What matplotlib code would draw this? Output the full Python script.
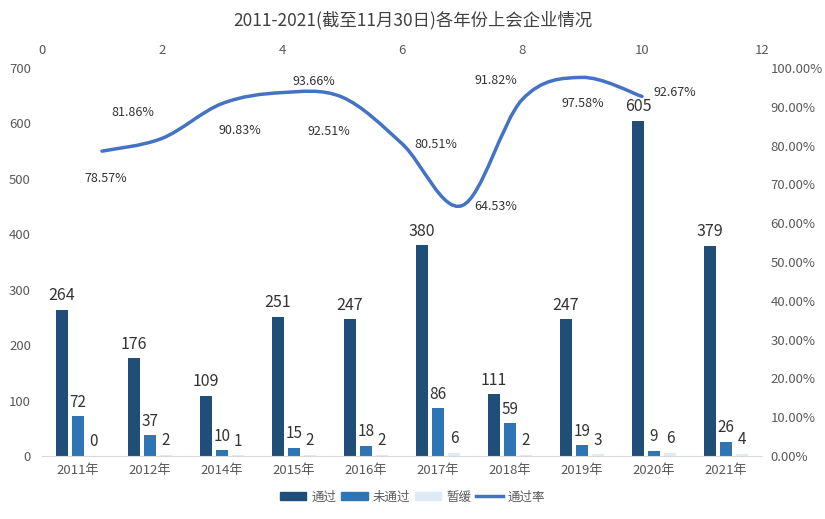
import matplotlib
matplotlib.use("Agg")
import matplotlib.pyplot as plt
from matplotlib.path import Path
from matplotlib.patches import PathPatch
from matplotlib.lines import Line2D
from matplotlib.patches import Patch
import numpy as np

plt.rcParams['font.family'] = ['Noto Sans CJK SC', 'DejaVu Sans']

# ---- data ----
years = ['2011年', '2012年', '2014年', '2015年', '2016年', '2017年', '2018年', '2019年', '2020年', '2021年']
passed = [264, 176, 109, 251, 247, 380, 111, 247, 605, 379]
failed = [72, 37, 10, 15, 18, 86, 59, 19, 9, 26]
delayed = [0, 2, 1, 2, 2, 6, 2, 3, 6, 4]
rate = [78.57, 81.86, 90.83, 93.66, 92.51, 80.51, 64.53, 91.82, 97.58, 92.67]
rate_x = [1, 2, 3, 4, 5, 6, 7, 8, 9, 10]

title = '2011-2021(截至11月30日)各年份上会企业情况'

# ---- style ----
c_pass = '#1F4E79'
c_fail = '#2E75B6'
c_delay = '#DEEBF7'
c_line = '#4472C4'
tcol = '#595959'

fig = plt.figure(figsize=(8.25, 5.19), dpi=100)
ax = fig.add_axes([42/825, 1-456/519, 720/825, 388/519])

x = np.arange(len(years))
w = 0.167
step = 0.222
b1 = ax.bar(x - step, passed, w, color=c_pass)
b2 = ax.bar(x, failed, w, color=c_fail)
b3 = ax.bar(x + step, delayed, w, color=c_delay)

ax.set_xlim(-0.5, len(years) - 0.5)
ax.set_ylim(0, 700)
ax.set_yticks(range(0, 701, 100))
ax.set_xticks(x)
ax.set_xticklabels(years)
for s in ['top', 'right', 'left']:
    ax.spines[s].set_visible(False)
ax.spines['bottom'].set_color('#D9D9D9')
ax.tick_params(axis='both', length=0, colors=tcol, labelsize=9.5)
ax.tick_params(axis='x', pad=6)
ax.tick_params(axis='y', pad=8)

for bars, fs in [(b1, 11.5), (b2, 11), (b3, 11)]:
    for r in bars:
        h = r.get_height()
        ax.annotate(f'{int(h)}', (r.get_x() + r.get_width()/2, h), xytext=(0, 4),
                    textcoords='offset points', ha='center', va='bottom',
                    fontsize=fs, color='#333333')

# right axis + top axis for the rate line
ax2 = ax.twinx()
ax2.set_ylim(0, 1.0)
ax2.set_yticks(np.arange(0, 1.01, 0.1))
ax2.set_yticklabels([f'{v*100:.2f}%' for v in np.arange(0, 1.01, 0.1)])
ax2.tick_params(axis='y', length=0, colors=tcol, labelsize=9.5, pad=6)
for s in ax2.spines.values():
    s.set_visible(False)

ax3 = ax2.twiny()
ax3.set_xlim(0, 12)
ax3.set_xticks(range(0, 13, 2))
ax3.tick_params(axis='x', length=0, colors=tcol, labelsize=9.5, pad=8)
for s in ax3.spines.values():
    s.set_visible(False)

# smoothed line (Catmull-Rom style Bezier like Excel smoothing)
pts = np.column_stack([rate_x, np.array(rate) / 100.0])
verts = [tuple(pts[0])]
codes = [Path.MOVETO]
n = len(pts)
for i in range(n - 1):
    p0 = pts[i - 1] if i > 0 else pts[i]
    p1 = pts[i]
    p2 = pts[i + 1]
    p3 = pts[i + 2] if i + 2 < n else pts[i + 1]
    c1 = p1 + (p2 - p0) / 6.0
    c2 = p2 - (p3 - p1) / 6.0
    verts += [tuple(c1), tuple(c2), tuple(p2)]
    codes += [Path.CURVE4] * 3
ax3.add_patch(PathPatch(Path(verts, codes), fill=False, edgecolor=c_line, lw=2.5,
                        capstyle='round', joinstyle='round'))

offsets_px = [(4, -27), (-29, 26), (18, -27), (32, 11), (-13, -34),
              (34, -1), (34, -1), (-26, 19), (1, -26), (33, 4)]
for (xx, yy), v, (dx, dy) in zip(pts, rate, offsets_px):
    ax3.annotate(f'{v:.2f}%', (xx, yy), xytext=(dx * 0.72, dy * 0.72),
                 textcoords='offset points', ha='center', va='center',
                 fontsize=9, color='#333333')

fig.text(0.5, 1 - 20/519, title, ha='center', va='center', fontsize=12.5, color='#404040')

handles = [Patch(color=c_pass), Patch(color=c_fail), Patch(color=c_delay),
           Line2D([0], [0], color=c_line, lw=2.5)]
fig.legend(handles, ['通过', '未通过', '暂缓', '通过率'], loc='center',
           bbox_to_anchor=(0.5, 1 - 497/519), ncol=4, frameon=False,
           fontsize=9, handlelength=2.1, handleheight=0.6, columnspacing=0.4,
           handletextpad=0.4, labelcolor=tcol)

fig.savefig('out.png', dpi=100)
